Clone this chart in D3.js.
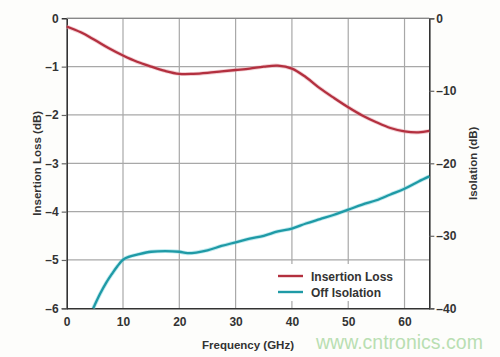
<!DOCTYPE html>
<html><head><meta charset="utf-8">
<script src="https://cdn.jsdelivr.net/npm/d3@7"></script>
<style>
html,body{margin:0;padding:0;background:#fdfdfb;}
svg{display:block;font-family:"Liberation Sans",Arial,sans-serif;}
</style></head>
<body>
<svg id="chart" width="500" height="357"></svg>
<script>
// Data
const frequencyIL = [0, 2.5, 5, 7.5, 10, 12.5, 15, 17.5, 20, 22.5, 25, 27.5, 30, 32.5, 35, 37.5, 40, 42.5, 45, 47.5, 50, 52.5, 55, 57.5, 60, 62.5, 64.4];
const insertionLoss = [-0.17, -0.29, -0.45, -0.62, -0.77, -0.9, -1.0, -1.09, -1.15, -1.15, -1.13, -1.1, -1.07, -1.04, -1.0, -0.98, -1.04, -1.22, -1.45, -1.65, -1.84, -2.01, -2.15, -2.27, -2.34, -2.36, -2.33];
const frequencyIso = [4.7, 5, 6, 7, 8, 9, 10, 11, 12.5, 15, 17.5, 20, 21.5, 25, 27.5, 30, 32.5, 35, 37.5, 40, 42.5, 45, 47.5, 50, 52.5, 55, 57.5, 60, 62.5, 64.4];
const offIsolation = [-40, -39.5, -37.9, -36.5, -35.3, -34.2, -33.3, -32.9, -32.6, -32.2, -32.1, -32.2, -32.4, -32.0, -31.4, -30.9, -30.4, -30.0, -29.4, -29.0, -28.3, -27.7, -27.1, -26.4, -25.7, -25.1, -24.3, -23.5, -22.5, -21.8];
const xTicks = [0, 10, 20, 30, 40, 50, 60];
const leftTicks = [0, -1, -2, -3, -4, -5, -6];
const rightTicks = [0, -10, -20, -30, -40];
const seriesNames = ["Insertion Loss", "Off Isolation"];
const seriesColors = ["#b3303f", "#1f9aa6"];

const svg = d3.select("#chart");
const L = 66.7, R = 429.3, T = 18.3, B = 308.3;
const x = d3.scaleLinear().domain([0, 64.4]).range([L, R]);
const yL = d3.scaleLinear().domain([-6, 0]).range([B, T]);
const yR = d3.scaleLinear().domain([-40, 0]).range([B, T]);

svg.append("rect").attr("x", L).attr("y", T).attr("width", R - L).attr("height", B - T).attr("fill", "#ffffff");

// grid
const grid = svg.append("g").attr("stroke", "#a8a8a8").attr("stroke-width", 1.2);
xTicks.filter(d => d > 0).forEach(d => grid.append("line").attr("x1", x(d)).attr("x2", x(d)).attr("y1", T).attr("y2", B));
leftTicks.filter(d => d > -6).forEach(d => grid.append("line").attr("x1", L).attr("x2", R).attr("y1", yL(d)).attr("y2", yL(d)));

// axes
const fmt = d => d < 0 ? "\u2013" + Math.abs(d) : String(d);
const axL = svg.append("g").attr("transform", `translate(${L},0)`)
  .call(d3.axisLeft(yL).tickValues(leftTicks).tickSize(5).tickPadding(3).tickFormat(fmt));
const axR = svg.append("g").attr("transform", `translate(${R},0)`)
  .call(d3.axisRight(yR).tickValues(rightTicks).tickSize(5).tickPadding(2).tickFormat(fmt));
const axB = svg.append("g").attr("transform", `translate(0,${B})`)
  .call(d3.axisBottom(x).tickValues(xTicks).tickSize(0).tickPadding(9).tickFormat(fmt));
[axL, axR, axB].forEach(a => {
  a.select(".domain").attr("stroke", "#333").attr("stroke-width", 1.6);
  a.selectAll(".tick line").attr("stroke", "#666").attr("stroke-width", 1.2);
  a.selectAll("text").attr("fill", "#333").attr("font-size", 12).attr("font-weight", "bold")
    .attr("font-family", "\"Liberation Sans\",Arial,sans-serif");
});
axL.selectAll(".tick").filter(d => d === 0).select("line").remove();
svg.append("line").attr("x1", L).attr("x2", R).attr("y1", T).attr("y2", T).attr("stroke", "#888").attr("stroke-width", 1.2);

// lines
const lineIL = d3.line().x(d => x(d[0])).y(d => yL(d[1])).curve(d3.curveCatmullRom.alpha(0.5));
const lineIso = d3.line().x(d => x(d[0])).y(d => yR(d[1])).curve(d3.curveCatmullRom.alpha(0.5));
const ilData = frequencyIL.map((f, i) => [f, insertionLoss[i]]);
const isoData = frequencyIso.map((f, i) => [f, offIsolation[i]]);
svg.append("path").datum(ilData).attr("d", lineIL).attr("fill", "none").attr("stroke", "#e8a0aa").attr("stroke-width", 4).attr("opacity", 0.5);
svg.append("path").datum(ilData).attr("d", lineIL).attr("fill", "none").attr("stroke", seriesColors[0]).attr("stroke-width", 2.3);
svg.append("path").datum(isoData).attr("d", lineIso).attr("fill", "none").attr("stroke", "#7fd6e0").attr("stroke-width", 4).attr("opacity", 0.5);
svg.append("path").datum(isoData).attr("d", lineIso).attr("fill", "none").attr("stroke", seriesColors[1]).attr("stroke-width", 2.3);

// legend
const lg = svg.append("g");
lg.append("rect").attr("x", 272).attr("y", 264).attr("width", 128).attr("height", 37).attr("fill", "#ffffff");
seriesNames.forEach((n, i) => {
  const yy = 276 + i * 16;
  lg.append("line").attr("x1", 278).attr("x2", 303).attr("y1", yy).attr("y2", yy).attr("stroke", seriesColors[i]).attr("stroke-width", 2.4);
  lg.append("text").attr("x", 311).attr("y", yy + 4.5).text(n).attr("font-size", 12).attr("font-weight", "bold").attr("fill", "#333");
});

// axis titles
svg.append("text").attr("x", (L + R) / 2).attr("y", 349).attr("text-anchor", "middle")
  .attr("font-size", 11.5).attr("font-weight", "bold").attr("fill", "#333").text("Frequency (GHz)");
svg.append("text").attr("transform", `translate(41,${(T + B) / 2}) rotate(-90)`).attr("text-anchor", "middle")
  .attr("font-size", 11.5).attr("font-weight", "bold").attr("fill", "#333").text("Insertion Loss (dB)");
svg.append("text").attr("transform", `translate(477,${(T + B) / 2}) rotate(-90)`).attr("text-anchor", "middle")
  .attr("font-size", 11.5).attr("font-weight", "bold").attr("fill", "#333").text("Isolation (dB)");

// watermark
svg.append("text").attr("x", 316).attr("y", 349).attr("font-size", 19.5).attr("fill", "#b9dfb2").text("www.cntronics.com");
</script>
</body></html>
